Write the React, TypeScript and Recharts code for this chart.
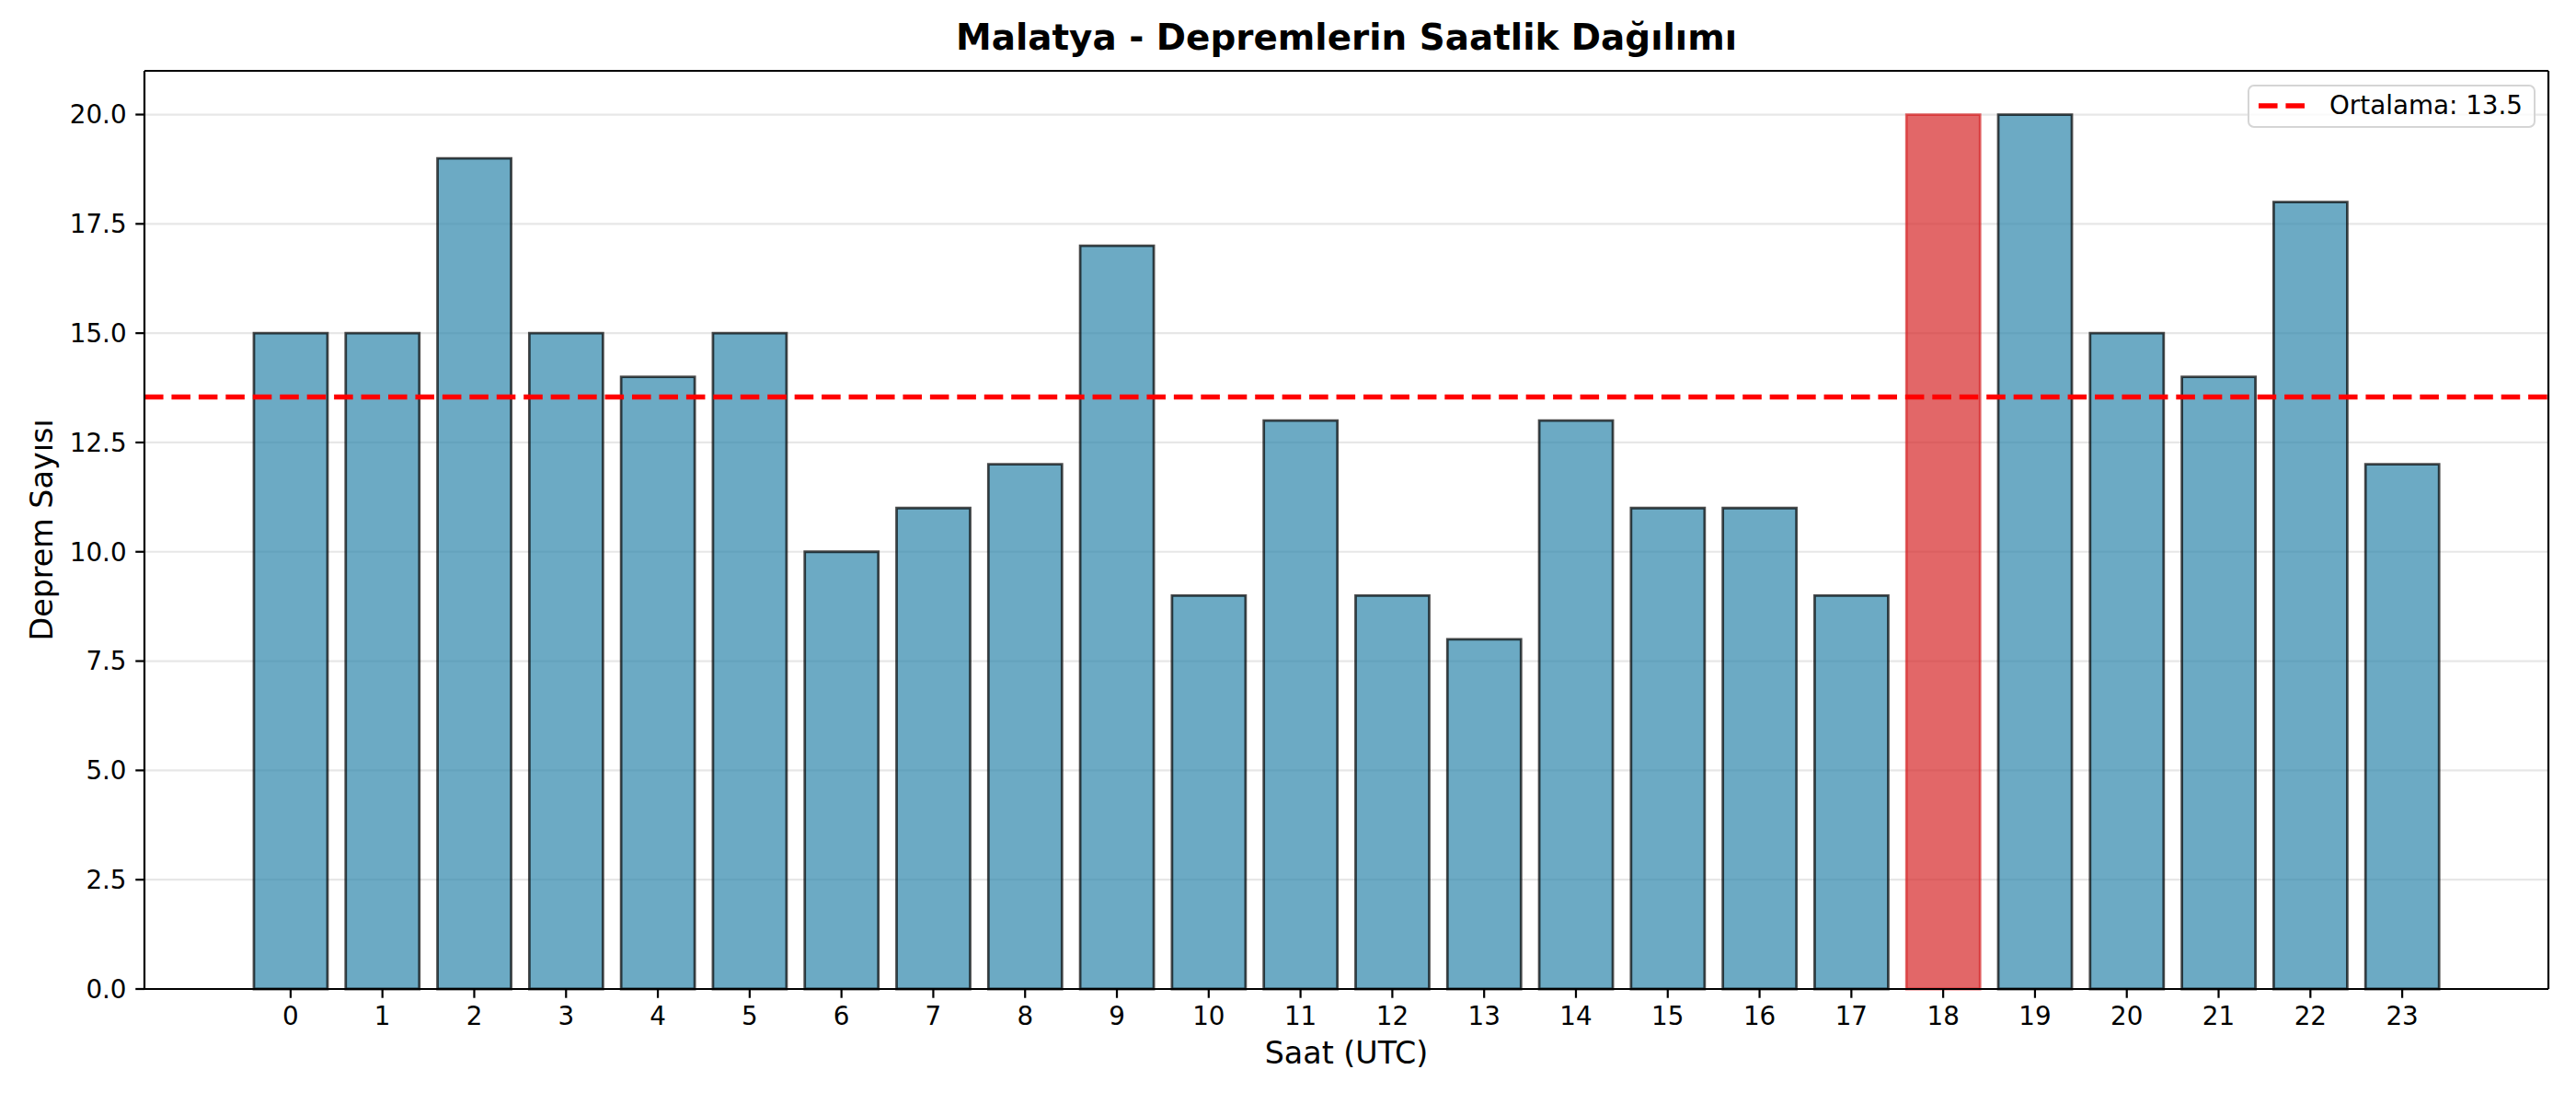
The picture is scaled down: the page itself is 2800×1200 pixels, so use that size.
import { Bar, BarChart, CartesianGrid, Cell, Legend, ReferenceLine, XAxis, YAxis } from 'recharts'

const hours = [0, 1, 2, 3, 4, 5, 6, 7, 8, 9, 10, 11, 12, 13, 14, 15, 16, 17, 18, 19, 20, 21, 22, 23]
const counts = [15, 15, 19, 15, 14, 15, 10, 11, 12, 17, 9, 13, 9, 8, 13, 11, 11, 9, 20, 20, 15, 14, 18, 12]
const yTicks = [0, 2.5, 5, 7.5, 10, 12.5, 15, 17.5, 20]

const data = hours.map((h, i) => ({ hour: String(h), count: counts[i] }))
const mean = counts.reduce((a, b) => a + b, 0) / counts.length
const peak = counts.indexOf(Math.max(...counts))

// matplotlib points at 200 dpi
const pt = 200 / 72
const font = '"DejaVu Sans", sans-serif'
const spine = { stroke: '#000', strokeWidth: 0.8 * pt }

function MeanLegend() {
  return (
    <div
      style={{
        display: 'flex',
        alignItems: 'center',
        background: 'rgba(255,255,255,0.8)',
        border: `${0.8 * pt}px solid #d5d5d5`,
        borderRadius: 7,
        padding: '4px 12px 6px 9px',
        fontFamily: font,
        fontSize: 10 * pt,
        color: '#000',
        whiteSpace: 'nowrap',
      }}
    >
      <svg width={52} height={12} style={{ marginRight: 26 }}>
        <line x1={1} y1={6} x2={51} y2={6} stroke="#ff0000" strokeWidth={2 * pt} strokeDasharray={`${3.7 * 2 * pt} ${1.6 * 2 * pt}`} />
      </svg>
      <span>Ortalama: {mean.toFixed(1)}</span>
    </div>
  )
}

export default function App() {
  return (
    <div style={{ position: 'absolute', left: 0, top: 0, width: 2800, height: 1200, background: '#fff', fontFamily: font }}>
      <div
        style={{
          position: 'absolute',
          left: 157,
          width: 2613,
          top: 22,
          textAlign: 'center',
          fontWeight: 'bold',
          fontSize: 14 * pt,
          lineHeight: 1,
        }}
      >
        Malatya - Depremlerin Saatlik Dağılımı
      </div>
      <div
        style={{
          position: 'absolute',
          left: 157,
          width: 2613,
          top: 1128,
          textAlign: 'center',
          fontSize: 12 * pt,
          lineHeight: 1,
        }}
      >
        Saat (UTC)
      </div>
      <div
        style={{
          position: 'absolute',
          left: 46,
          top: 576,
          transform: 'translate(-50%, -50%) rotate(-90deg)',
          fontSize: 12 * pt,
          lineHeight: 1,
          whiteSpace: 'nowrap',
        }}
      >
        Deprem Sayısı
      </div>
      <BarChart
        width={2800}
        height={1200}
        data={data}
        margin={{ top: 76, right: 29, bottom: 0, left: 0 }}
        barCategoryGap="10%"
        style={{ position: 'absolute', left: 0, top: 0 }}
      >
        <CartesianGrid vertical={false} horizontalValues={yTicks} stroke="#b0b0b0" strokeOpacity={0.3} strokeWidth={0.8 * pt} />
        <XAxis
          dataKey="hour"
          interval={0}
          height={125}
          padding={{ left: 109, right: 109 }}
          tick={{ fill: '#000', fontSize: 10 * pt, fontFamily: font }}
          tickSize={3.5 * pt}
          tickMargin={3.5 * pt}
          axisLine={spine}
          tickLine={spine}
        />
        <XAxis
          xAxisId="top"
          dataKey="hour"
          orientation="top"
          height={1}
          tick={false}
          tickLine={false}
          axisLine={spine}
        />
        <YAxis
          width={157}
          domain={[0, 21]}
          ticks={yTicks}
          interval={0}
          tickFormatter={(v: number) => v.toFixed(1)}
          tick={{ fill: '#000', fontSize: 10 * pt, fontFamily: font }}
          tickSize={3.5 * pt}
          tickMargin={3.5 * pt}
          axisLine={spine}
          tickLine={spine}
        />
        <YAxis
          yAxisId="right"
          orientation="right"
          width={1}
          domain={[0, 21]}
          tick={false}
          tickLine={false}
          axisLine={spine}
        />
        <Bar dataKey="count" isAnimationActive={false} strokeWidth={1 * pt}>
          {data.map((d, i) => (
            <Cell
              key={d.hour}
              fill={i === peak ? '#d62728' : '#2e86ab'}
              fillOpacity={0.7}
              stroke={i === peak ? '#d62728' : '#000'}
              strokeOpacity={0.7}
            />
          ))}
        </Bar>
        <ReferenceLine
          y={mean}
          stroke="#ff0000"
          strokeWidth={2 * pt}
          strokeDasharray={`${3.7 * 2 * pt} ${1.6 * 2 * pt}`}
        />
        <Legend
          layout="vertical"
          align="center"
          verticalAlign="middle"
          content={() => <MeanLegend />}
          wrapperStyle={{ position: 'absolute', left: 'auto', right: 44, top: 92, bottom: 'auto', width: 'auto' }}
        />
      </BarChart>
    </div>
  )
}
